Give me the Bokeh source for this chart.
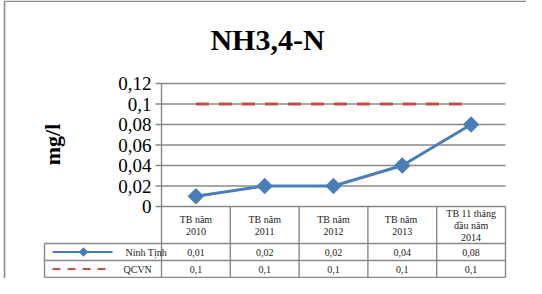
from bokeh.plotting import figure
from bokeh.models import Range1d
from bokeh.core.properties import value
from bokeh.embed import file_html
from bokeh.resources import INLINE
import math

# ---- data ----
title = "NH3,4-N"
y_label = "mg/l"
categories = ["TB năm\n2010", "TB năm\n2011", "TB năm\n2012", "TB  năm\n2013", "TB 11 tháng\nđầu năm\n2014"]
ninh_tinh = [0.01, 0.02, 0.02, 0.04, 0.08]
qcvn = [0.1, 0.1, 0.1, 0.1, 0.1]
series_names = ["Ninh Tịnh", "QCVN"]
y_ticks = [0, 0.02, 0.04, 0.06, 0.08, 0.1, 0.12]

def fmt(v):
    s = ("%.2f" % v).rstrip("0").rstrip(".")
    return s.replace(".", ",")

# ---- layout (pixels in figure) ----
W, H = 526, 278
L, R = 161, 505            # plot area left / right
CW = (R - L) / len(categories)
Y0 = 206                   # pixel of value 0
K = 20.5 / 0.02            # pixels per unit
FONT = value("Liberation Serif")
BLUE = "#4A7EBB"
RED = "#C0504D"
GRID = "#888888"

def dx(px):
    return (px - L) / CW

def dy(py):
    return (Y0 - py) / K

p = figure(width=W, height=H, output_backend="svg", toolbar_location=None,
           x_range=Range1d(dx(0), dx(W)), y_range=Range1d(dy(H), dy(0)),
           x_axis_type=None, y_axis_type=None, min_border=0,
           outline_line_color=None)
p.grid.visible = False
p.background_fill_color = "white"

n = len(categories)
xc = [i + 0.5 for i in range(n)]
ymax = y_ticks[-1]

# outer chart border (top and left)
p.segment(x0=[dx(4), dx(4)], y0=[dy(0.8), dy(0.8)], x1=[dx(W), dx(4)], y1=[dy(0.8), dy(H)],
          line_color="#8a8a8a", line_width=1.6)

# gridlines
p.segment(x0=[0] * len(y_ticks), y0=y_ticks, x1=[n] * len(y_ticks), y1=y_ticks,
          line_color=GRID, line_width=1.4)
# tick marks
p.segment(x0=[dx(L - 6)] * len(y_ticks), y0=y_ticks, x1=[0] * len(y_ticks), y1=y_ticks,
          line_color=GRID, line_width=1.4)
# axis line
p.segment(x0=[0], y0=[0], x1=[0], y1=[ymax], line_color=GRID, line_width=1.4)

# tick labels
p.text(x=[dx(151)] * len(y_ticks), y=y_ticks, text=[fmt(t) for t in y_ticks],
       text_font=FONT, text_font_size="19px", text_align="right", text_baseline="middle",
       text_color="black")

# title and axis title
p.text(x=[dx(267)], y=[dy(39)], text=[title], text_font=FONT, text_font_size="30px",
       text_font_style="bold", text_align="center", text_baseline="middle", text_color="black")
p.text(x=[dx(52)], y=[dy(144)], text=[y_label], text_font=FONT, text_font_size="22px",
       text_font_style="bold", text_align="center", text_baseline="middle", text_color="black",
       angle=math.pi / 2)

# series
p.line(x=xc, y=qcvn, line_color=RED, line_width=3, line_dash="13 10")
p.line(x=xc, y=ninh_tinh, line_color=BLUE, line_width=3)
p.scatter(x=xc, y=ninh_tinh, marker="square", size=11, angle=math.pi / 4,
          fill_color=BLUE, line_color=BLUE)

# ---- data table ----
HB, R1, R2 = 243, 260, 277      # header bottom, row1 bottom, row2 bottom (pixels)
TL = 44                         # legend column left
# vertical lines
p.segment(x0=list(range(n + 1)), y0=[0] * (n + 1), x1=list(range(n + 1)), y1=[dy(R2)] * (n + 1),
          line_color=GRID, line_width=1.4)
p.segment(x0=[dx(TL)], y0=[dy(HB)], x1=[dx(TL)], y1=[dy(R2)], line_color=GRID, line_width=1.4)
# horizontal lines
p.segment(x0=[dx(TL)] * 3, y0=[dy(HB), dy(R1), dy(R2)], x1=[n] * 3, y1=[dy(HB), dy(R1), dy(R2)],
          line_color=GRID, line_width=1.4)

# header texts
p.text(x=xc, y=[dy((Y0 + HB) / 2 + 0.5)] * n, text=categories, text_font=FONT, text_font_size="10px",
       text_align="center", text_baseline="middle", text_color="#222222", text_line_height=1.12)
# values
r1y = dy((HB + R1) / 2)
r2y = dy((R1 + R2) / 2)
p.text(x=xc, y=[r1y] * n, text=[fmt(v) for v in ninh_tinh], text_font=FONT, text_font_size="10px",
       text_align="center", text_baseline="middle", text_color="#222222")
p.text(x=xc, y=[r2y] * n, text=[fmt(v) for v in qcvn], text_font=FONT, text_font_size="10px",
       text_align="center", text_baseline="middle", text_color="#222222")

# legend keys
p.line(x=[dx(52), dx(112)], y=[r1y, r1y], line_color=BLUE, line_width=2)
p.scatter(x=[dx(83)], y=[r1y], marker="square", size=6, angle=math.pi / 4,
          fill_color=BLUE, line_color=BLUE)
p.line(x=[dx(52), dx(108)], y=[r2y, r2y], line_color=RED, line_width=2, line_dash="8 7")
p.text(x=[dx(125), dx(123)], y=[r1y, r2y], text=series_names, text_font=FONT, text_font_size="10px",
       text_align="left", text_baseline="middle", text_color="#222222")

open("out.html", "w").write(file_html(p, INLINE))
